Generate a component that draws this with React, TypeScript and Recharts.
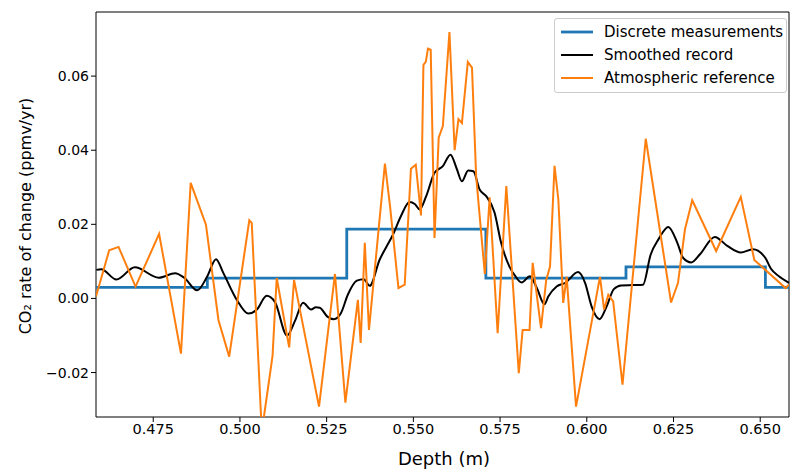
import { LineChart, Line, XAxis, YAxis, ReferenceArea } from "recharts";

// Atmospheric reference (orange)
const atmDepth = [0.4585, 0.4623, 0.465, 0.4699, 0.4767, 0.483, 0.4858, 0.4902, 0.4938, 0.4969, 0.5027, 0.5034, 0.5063, 0.5094, 0.5106, 0.5142, 0.5156, 0.5228, 0.5274, 0.5304, 0.534, 0.5348, 0.536, 0.5372, 0.5418, 0.5433, 0.5457, 0.5475, 0.5493, 0.5507, 0.5522, 0.5529, 0.5536, 0.5542, 0.555, 0.5561, 0.5573, 0.5585, 0.5604, 0.5619, 0.563, 0.564, 0.5657, 0.5669, 0.5681, 0.5706, 0.572, 0.5743, 0.5768, 0.5804, 0.5815, 0.5835, 0.5844, 0.5868, 0.5883, 0.5894, 0.5907, 0.5918, 0.5932, 0.5942, 0.5969, 0.6038, 0.605, 0.6062, 0.6076, 0.6103, 0.617, 0.6243, 0.6263, 0.6283, 0.6304, 0.6373, 0.6444, 0.6483, 0.6573, 0.6583];
const atmValues = [0.0005, 0.013, 0.0139, 0.0032, 0.0174, -0.0149, 0.0312, 0.0199, -0.0058, -0.0157, 0.0211, 0.0204, -0.036, -0.0155, 0.0055, -0.0132, 0.005, -0.0292, 0.0066, -0.0281, -0.0004, -0.012, 0.015, -0.0085, 0.0364, 0.0247, 0.0028, 0.0037, 0.035, 0.0361, 0.0224, 0.063, 0.0639, 0.0674, 0.0671, 0.0163, 0.0434, 0.0465, 0.0719, 0.04, 0.0484, 0.0473, 0.0638, 0.0623, 0.033, 0.0066, 0.0273, -0.0094, 0.0303, -0.0202, -0.0085, -0.0085, 0.0096, -0.008, 0.005, 0.0086, 0.0358, 0.0267, -0.0012, 0.0059, -0.0292, 0.0058, -0.003, 0.001, -0.0008, -0.0233, 0.0431, -0.0011, 0.0042, 0.0186, 0.0265, 0.0128, 0.0274, 0.0104, 0.0028, 0.0037];

// Smoothed record (black)
const smoothDepth = [0.4586, 0.46, 0.4644, 0.4697, 0.4766, 0.4813, 0.4839, 0.4877, 0.4906, 0.4931, 0.4952, 0.4991, 0.5024, 0.5049, 0.5077, 0.5101, 0.5136, 0.5159, 0.5182, 0.5205, 0.5219, 0.523, 0.5252, 0.5271, 0.5291, 0.5311, 0.5337, 0.5357, 0.5374, 0.5403, 0.5422, 0.5441, 0.5465, 0.5489, 0.5504, 0.5518, 0.5537, 0.5561, 0.5585, 0.5607, 0.5625, 0.564, 0.5658, 0.5673, 0.5691, 0.571, 0.5734, 0.5753, 0.5777, 0.5794, 0.5812, 0.5836, 0.5856, 0.5878, 0.5889, 0.5913, 0.5938, 0.5975, 0.5995, 0.6014, 0.6037, 0.6057, 0.6078, 0.6099, 0.6134, 0.6162, 0.6184, 0.6207, 0.6235, 0.6261, 0.6278, 0.6301, 0.6327, 0.6369, 0.6405, 0.6444, 0.6479, 0.6515, 0.6531, 0.6554, 0.6583];
const smoothValues = [0.0077, 0.0079, 0.0051, 0.0084, 0.0056, 0.0068, 0.0056, 0.0022, 0.006, 0.0106, 0.0069, -0.0004, -0.0041, -0.003, 0.0007, -0.001, -0.01, -0.006, -0.0012, -0.003, -0.0024, -0.0025, -0.0049, -0.0056, -0.004, 0.001, 0.0048, 0.0052, 0.0034, 0.0105, 0.0139, 0.0172, 0.0224, 0.026, 0.0255, 0.024, 0.0276, 0.0339, 0.0357, 0.0388, 0.035, 0.0316, 0.0345, 0.0343, 0.0294, 0.0276, 0.0232, 0.015, 0.0086, 0.006, 0.0043, 0.006, 0.0028, -0.0016, 0.0005, 0.0032, 0.0042, 0.0071, 0.0042, -0.0022, -0.0056, -0.0022, 0.0025, 0.0035, 0.0036, 0.0037, 0.0118, 0.016, 0.0193, 0.015, 0.0109, 0.0097, 0.012, 0.0166, 0.0142, 0.0124, 0.0133, 0.0109, 0.008, 0.006, 0.0042];

// Discrete measurements (blue step)
const stepDepth = [0.4585, 0.4906, 0.5308, 0.5709, 0.6113, 0.6515, 0.6583];
const stepValues = [0.003, 0.0055, 0.0187, 0.0055, 0.0085, 0.003, 0.003];

const xTicks = [0.475, 0.5, 0.525, 0.55, 0.575, 0.6, 0.625, 0.65];
const yTicks = [-0.02, 0, 0.02, 0.04, 0.06];

const X_MIN = 0.4585;
const X_MAX = 0.6583;
const Y_MIN = -0.032;
const Y_MAX = 0.0773;

const FONT = "DejaVu Sans";

const zip = (xs: number[], ys: number[]) => xs.map((d, i) => ({ d, v: ys[i] }));

const atmData = zip(atmDepth, atmValues);
const smoothData = zip(smoothDepth, smoothValues);
const stepData = zip(stepDepth, stepValues);

const legendItems = [
  { label: "Discrete measurements", color: "#1f77b4", width: 2.8 },
  { label: "Smoothed record", color: "#000000", width: 2 },
  { label: "Atmospheric reference", color: "#ff7f0e", width: 2 },
];

const fmtY = (v: number) => (v < 0 ? "\u2212" + Math.abs(v).toFixed(2) : v.toFixed(2));

export default function App() {
  return (
    <div style={{ position: "absolute", left: 0, top: 0, width: 790, height: 469, background: "#fff", fontFamily: FONT }}>
      <LineChart width={790} height={469} margin={{ top: 12, right: 1, bottom: 0, left: 0 }}>
        <XAxis
          type="number"
          dataKey="d"
          domain={[X_MIN, X_MAX]}
          allowDataOverflow
          ticks={xTicks}
          tickFormatter={(v: number) => v.toFixed(3)}
          height={52}
          axisLine={false}
          tickLine={{ stroke: "#000" }}
          tickSize={5}
          tick={{ fill: "#000", fontSize: 14.5, fontFamily: FONT }}
          label={{
            content: () => (
              <text x={444} y={458} textAnchor="middle" dominantBaseline="central" fontSize={18} fontFamily={FONT} fill="#000">
                Depth (m)
              </text>
            ),
          }}
        />
        <YAxis
          type="number"
          domain={[Y_MIN, Y_MAX]}
          allowDataOverflow
          ticks={yTicks}
          tickFormatter={fmtY}
          width={96}
          axisLine={false}
          tickLine={{ stroke: "#000" }}
          tickSize={5}
          tick={{ fill: "#000", fontSize: 14, fontFamily: FONT }}
          label={{
            content: () => (
              <text
                x={25}
                y={216}
                transform="rotate(-90 25 216)"
                textAnchor="middle"
                dominantBaseline="central"
                fontSize={16}
                fontFamily={FONT}
                fill="#000"
              >
                CO₂ rate of change (ppmv/yr)
              </text>
            ),
          }}
        />
        <Line data={stepData} dataKey="v" type="stepAfter" stroke="#1f77b4" strokeWidth={2.8} dot={false} isAnimationActive={false} />
        <Line data={smoothData} dataKey="v" type="monotone" stroke="#000" strokeWidth={2} dot={false} isAnimationActive={false} />
        <Line data={atmData} dataKey="v" type="linear" stroke="#ff7f0e" strokeWidth={2} dot={false} isAnimationActive={false} />
        <ReferenceArea x1={X_MIN} x2={X_MAX} y1={Y_MIN} y2={Y_MAX} fill="none" stroke="#000" strokeWidth={1} ifOverflow="visible" />
      </LineChart>
      <div
        style={{
          position: "absolute",
          left: 554,
          top: 18,
          width: 231,
          height: 73,
          border: "1px solid #cccccc",
          borderRadius: 3,
          background: "rgba(255,255,255,0.8)",
          fontSize: 15,
          color: "#000",
        }}
      >
        {legendItems.map((it, i) => (
          <div key={i} style={{ position: "absolute", left: 0, top: 1 + i * 23, height: 23, display: "flex", alignItems: "center" }}>
            <svg width={44} height={10} style={{ marginLeft: 5 }}>
              <line x1={1} y1={5} x2={33} y2={5} stroke={it.color} strokeWidth={it.width} />
            </svg>
            <span style={{ whiteSpace: "nowrap" }}>{it.label}</span>
          </div>
        ))}
      </div>
    </div>
  );
}
